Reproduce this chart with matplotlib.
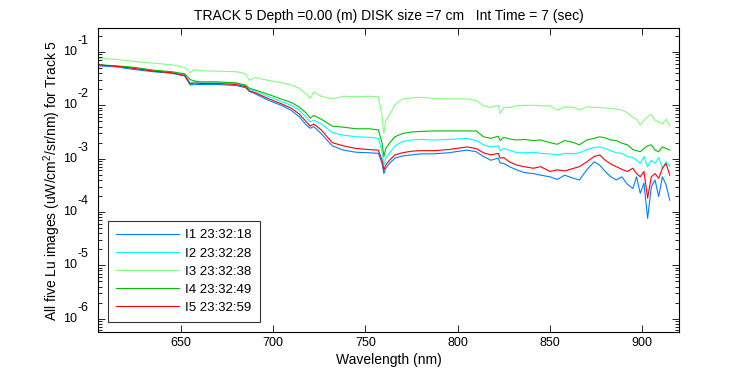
import numpy as np
import matplotlib
matplotlib.use("Agg")
import matplotlib.pyplot as plt
import matplotlib.transforms as mtransforms
from matplotlib.ticker import LogLocator, NullFormatter

plt.rcParams['font.family'] = ['Liberation Sans', 'DejaVu Sans']
plt.rcParams['mathtext.fontset'] = 'custom'
plt.rcParams['mathtext.rm'] = 'Liberation Sans'
plt.rcParams['mathtext.it'] = 'Liberation Sans'

# wavelength grid (nm)
wavelength = [605, 615, 625, 635, 645, 652, 655, 657, 660, 670, 680, 685, 687, 690,
              697, 705, 710, 714, 718, 720, 722, 726, 732, 738, 745, 752, 757, 759,
              760, 761, 763, 766, 770, 775, 780, 787, 795, 805, 810, 814, 818, 822,
              823, 825, 828, 832, 836, 841, 845, 850, 854, 858, 863, 866, 870, 874,
              877, 880, 883, 886, 889, 892, 895, 897, 899, 901, 903, 905, 907, 909,
              911, 913, 915]

# log10 of Lu
log_i1 = [-1.26, -1.28, -1.33, -1.37, -1.40, -1.45, -1.62, -1.61, -1.61, -1.61, -1.63, -1.67, -1.74, -1.78,
          -1.90, -2.01, -2.10, -2.21, -2.37, -2.43, -2.40, -2.53, -2.76, -2.84, -2.88, -2.89, -2.90, -3.09,
          -3.28, -3.18, -3.09, -2.99, -2.95, -2.93, -2.91, -2.91, -2.89, -2.84, -2.87, -2.96, -3.03, -2.99,
          -3.08, -3.09, -3.15, -3.21, -3.26, -3.28, -3.31, -3.34, -3.39, -3.31, -3.37, -3.40, -3.21, -3.06,
          -3.12, -3.24, -3.34, -3.40, -3.34, -3.48, -3.56, -3.34, -3.65, -3.46, -4.12, -3.53, -3.40, -3.71,
          -3.34, -3.49, -3.78]
log_i2 = [-1.24, -1.27, -1.31, -1.35, -1.38, -1.43, -1.58, -1.56, -1.58, -1.58, -1.59, -1.64, -1.70, -1.73,
          -1.83, -1.94, -2.00, -2.09, -2.23, -2.31, -2.28, -2.35, -2.51, -2.56, -2.59, -2.60, -2.62, -2.87,
          -3.12, -2.99, -2.90, -2.76, -2.68, -2.65, -2.64, -2.65, -2.64, -2.62, -2.66, -2.74, -2.78, -2.76,
          -2.85, -2.81, -2.84, -2.89, -2.89, -2.88, -2.90, -2.91, -2.93, -2.90, -2.91, -2.89, -2.83, -2.79,
          -2.78, -2.81, -2.85, -2.89, -2.90, -2.96, -2.98, -3.03, -3.09, -2.96, -3.15, -3.03, -3.09, -2.98,
          -3.18, -3.06, -3.15]
log_i3 = [-1.12, -1.14, -1.18, -1.21, -1.24, -1.29, -1.39, -1.33, -1.35, -1.36, -1.37, -1.41, -1.53, -1.48,
          -1.53, -1.58, -1.62, -1.68, -1.79, -1.87, -1.75, -1.83, -1.88, -1.83, -1.84, -1.83, -1.84, -2.21,
          -2.53, -2.28, -2.18, -1.99, -1.88, -1.86, -1.85, -1.87, -1.88, -1.88, -1.91, -2.01, -2.04, -2.00,
          -2.15, -2.04, -2.04, -2.01, -2.00, -2.00, -2.01, -2.01, -2.09, -2.03, -2.04, -2.09, -2.03, -2.04,
          -2.04, -2.05, -2.06, -2.07, -2.09, -2.14, -2.23, -2.26, -2.37, -2.28, -2.21, -2.17, -2.28, -2.31,
          -2.35, -2.26, -2.39]
log_i4 = [-1.24, -1.26, -1.29, -1.34, -1.37, -1.41, -1.52, -1.54, -1.56, -1.56, -1.58, -1.62, -1.68, -1.71,
          -1.79, -1.89, -1.95, -2.03, -2.15, -2.24, -2.19, -2.26, -2.39, -2.41, -2.44, -2.44, -2.46, -2.71,
          -2.96, -2.81, -2.71, -2.59, -2.53, -2.50, -2.49, -2.48, -2.48, -2.48, -2.48, -2.59, -2.62, -2.58,
          -2.66, -2.60, -2.63, -2.65, -2.64, -2.66, -2.65, -2.70, -2.73, -2.66, -2.70, -2.74, -2.65, -2.62,
          -2.59, -2.61, -2.65, -2.66, -2.71, -2.74, -2.83, -2.85, -2.87, -2.81, -2.76, -2.74, -2.84, -2.87,
          -2.78, -2.81, -2.84]
log_i5 = [-1.24, -1.27, -1.31, -1.36, -1.39, -1.44, -1.60, -1.58, -1.59, -1.59, -1.61, -1.65, -1.73, -1.76,
          -1.87, -1.98, -2.06, -2.16, -2.31, -2.39, -2.35, -2.46, -2.70, -2.76, -2.81, -2.83, -2.84, -3.03,
          -3.21, -3.12, -3.03, -2.93, -2.89, -2.86, -2.85, -2.85, -2.83, -2.78, -2.81, -2.89, -2.93, -2.90,
          -2.99, -2.98, -3.06, -3.12, -3.15, -3.18, -3.15, -3.24, -3.21, -3.23, -3.18, -3.15, -3.06, -2.96,
          -2.93, -3.03, -3.10, -3.15, -3.20, -3.24, -3.18, -3.28, -3.34, -3.24, -3.74, -3.34, -3.28, -3.37,
          -3.18, -3.09, -3.31]

labels = ['I1 23:32:18', 'I2 23:32:28', 'I3 23:32:38', 'I4 23:32:49', 'I5 23:32:59']
colors = ['#0080ff', '#00ffff', '#80ff80', '#00c000', '#ff0000']
decades = [-6, -5, -4, -3, -2, -1]

fig = plt.figure(figsize=(7.5, 3.75), dpi=100)
ax = fig.add_axes([0.1307, 0.1147, 0.7746, 0.8107])

for lg, lab, col in zip([log_i1, log_i2, log_i3, log_i4, log_i5], labels, colors):
    ax.plot(wavelength, 10 ** np.array(lg), color=col, lw=0.8, label=lab)

ax.set_yscale('log')
ax.set_xlim(605, 920)
ax.set_ylim(10 ** -6.25, 10 ** -0.55)
ax.set_xticks([650, 700, 750, 800, 850, 900])
ax.set_yticks([10.0 ** d for d in decades])
ax.yaxis.set_minor_locator(LogLocator(base=10, subs=np.arange(2, 10), numticks=20))
ax.yaxis.set_minor_formatter(NullFormatter())
ax.tick_params(which='both', direction='in', top=True, right=True, labelsize=9)
ax.tick_params(axis='y', which='major', labelleft=False)
ax.tick_params(which='major', length=5, width=0.6)
ax.tick_params(which='minor', length=3, width=0.6)
for s in ax.spines.values():
    s.set_linewidth(0.8)

# MATLAB-style "10" with a full-size exponent
ytrans = mtransforms.blended_transform_factory(ax.transAxes, ax.transData)
base_off = mtransforms.ScaledTranslation(-0.21, 0, fig.dpi_scale_trans)
exp_off = mtransforms.ScaledTranslation(-0.205, 0.11, fig.dpi_scale_trans)
for d in decades:
    ax.text(0, 10.0 ** d, '10', transform=ytrans + base_off, ha='right', va='center', fontsize=9)
    ax.text(0, 10.0 ** d, str(d), transform=ytrans + exp_off, ha='left', va='center', fontsize=9)

ax.set_title('TRACK 5 Depth =0.00 (m) DISK size =7 cm   Int Time = 7 (sec)', fontsize=10, pad=6)
ax.set_xlabel('Wavelength (nm)', fontsize=10, labelpad=3)
ax.set_ylabel('All five Lu images (uW/cm$^2$/sr/nm) for Track 5', fontsize=10, labelpad=22)

leg = ax.legend(loc='lower left', bbox_to_anchor=(0.017, 0.033), borderaxespad=0,
                fontsize=9.5, fancybox=False, edgecolor='black', handlelength=4.8,
                handletextpad=0.45, labelspacing=0.45, borderpad=0.6)
leg.get_frame().set_linewidth(0.8)

fig.savefig('out.png', dpi=100)
